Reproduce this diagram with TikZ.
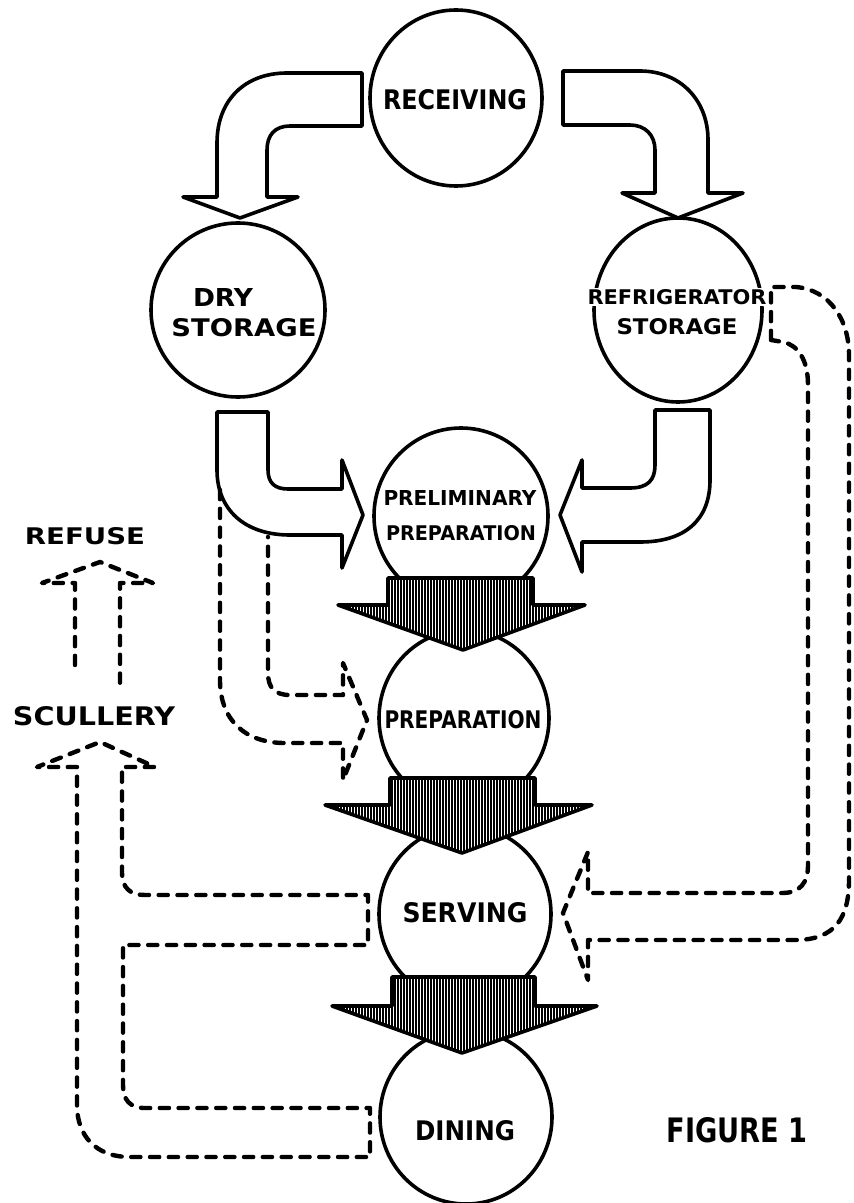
\documentclass[tikz,border=0pt]{standalone}
\usepackage{fontspec}
\usepackage{graphicx}
\usetikzlibrary{shapes.geometric}
\newfontfamily\lblfont{DejaVu Sans}
\newcommand{\fitlbl}[3]{\resizebox{\dimexpr #1pt/2\relax}{\dimexpr #2pt/2\relax}{\lblfont\bfseries #3}}
% hatched block arrow: #1 shaft left x, #2 shaft right x, #3 shaft top y, #4 head base y,
% #5 head left x, #6 head right x, #7 tip x, #8 tip y
\newcommand{\hatcharrow}[8]{%
  \begin{scope}
    \clip (#1,#3) -- (#2,#3) -- (#2,#4) -- (#6,#4) -- (#7,#8) -- (#5,#4) -- (#1,#4) -- cycle;
    \fill[white] (#5,#3) rectangle (#6,#8);
    \foreach \hx in {320,323,...,610} {\draw[line width=1.1pt] (\hx,#3) -- (\hx,#8);}
  \end{scope}
  \draw[line width=1.8pt, line join=round] (#1,#3) -- (#2,#3) -- (#2,#4) -- (#6,#4) -- (#7,#8) -- (#5,#4) -- (#1,#4) -- cycle;
}
\begin{document}
\begin{tikzpicture}[x=0.5pt, y=-0.5pt, line join=round,
  circ/.style={ellipse, draw, line width=1.8pt, inner sep=0pt},
  lbl/.style={inner sep=0pt},
  lblw/.style={inner sep=0.6pt, fill=white},
  blockarrow/.style={draw, line width=1.8pt, fill=white, line join=round},
  dasharrow/.style={draw, line width=2.2pt, dash pattern=on 4.6pt off 4.8pt, line cap=round, line join=round}]
\useasboundingbox (0,0) rectangle (853,1203);

% circles
\node[circ, minimum width=86pt, minimum height=88pt] (rec) at (456,98) {};
\node[circ, minimum width=87pt, minimum height=87pt] (dry) at (238,310) {};
\node[circ, minimum width=84pt, minimum height=92pt] (ref) at (678,310) {};
\node[circ, minimum width=87pt, minimum height=88pt] (pre) at (461,516) {};
\node[circ, minimum width=85pt, minimum height=88pt] (prep) at (464,718) {};
\node[circ, minimum width=86pt, minimum height=88pt] (serv) at (465,914) {};
\node[circ, minimum width=86pt, minimum height=87pt] (din) at (466,1117) {};

% labels
\node[lbl] (trec) at (455,100) {\fitlbl{144}{20}{RECEIVING}};
\node[lbl] (tdry) at (223,298) {\fitlbl{60}{18}{DRY}};
\node[lbl] (tdrys) at (244,328) {\fitlbl{145}{18}{STORAGE}};
\node[lblw] (tref) at (677,297) {\fitlbl{179}{15}{REFRIGERATOR}};
\node[lbl] (trefs) at (677,327) {\fitlbl{121}{16}{STORAGE}};
\node[lbl] (tpre) at (460,498) {\fitlbl{153}{15}{PRELIMINARY}};
\node[lbl] (tpre2) at (461,533) {\fitlbl{150}{15}{PREPARATION}};
\node[lbl] (tprep) at (463,720) {\fitlbl{157}{18}{PREPARATION}};
\node[lbl] (tserv) at (465,913) {\fitlbl{125}{20}{SERVING}};
\node[lbl] (tdin) at (465,1131) {\fitlbl{100}{20}{DINING}};
\node[lbl] (tref2) at (85,536) {\fitlbl{120}{17}{REFUSE}};
\node[lbl] (tscul) at (94,716) {\fitlbl{162}{19}{SCULLERY}};
\node[lbl] (tfig) at (737,1130) {\fitlbl{141}{25}{FIGURE 1}};

% solid bent block arrows
\draw[blockarrow] (362,126) -- (362,73) -- (287,73) .. controls (245,73) and (217,100) .. (217,143)
  -- (217,197) -- (183,197) -- (240,218) -- (298,197) -- (267,197) -- (267,150)
  .. controls (267,135) and (275,126) .. (290,126) -- cycle;
\draw[blockarrow] (563,125) -- (563,71) -- (640,71) .. controls (680,71) and (708,100) .. (708,140)
  -- (708,193) -- (743,193) -- (678,218) -- (622,193) -- (655,193) -- (655,150)
  .. controls (655,135) and (645,125) .. (630,125) -- cycle;
\draw[blockarrow] (217,412) -- (268,412) -- (268,470) .. controls (268,483) and (275,489) .. (288,489)
  -- (342,489) -- (342,460) -- (363,515) -- (342,568) -- (342,535) -- (290,535)
  .. controls (245,535) and (217,510) .. (217,470) -- cycle;
\draw[blockarrow] (655,410) -- (710,410) -- (710,480) .. controls (710,520) and (685,542) .. (640,542)
  -- (582,542) -- (582,572) -- (560,515) -- (582,460) -- (582,488) -- (630,488)
  .. controls (648,488) and (655,480) .. (655,465) -- cycle;

% hatched block arrows
\hatcharrow{388}{533}{578}{605}{338}{585}{463}{650}
\hatcharrow{390}{535}{778}{805}{325}{592}{462}{853}
\hatcharrow{392}{535}{977}{1006}{332}{597}{462}{1053}

% dashed arrow: dry storage -> preparation
\draw[dasharrow] (220,490) -- (220,680) .. controls (220,720) and (245,743) .. (285,743) -- (343,743)
  -- (343,780) -- (367,720) -- (343,663) -- (343,695) -- (290,695)
  .. controls (275,695) and (268,688) .. (268,673) -- (268,537);

% dashed arrow: refrigerator storage -> serving
\draw[dasharrow] (771,340) -- (771,287) -- (796,287) .. controls (830,290) and (849,320) .. (849,355)
  -- (849,880) .. controls (849,918) and (835,940) .. (795,940) -- (588,940) -- (588,980)
  -- (563,913) -- (588,852) -- (588,893) -- (782,893) .. controls (800,893) and (808,883) .. (808,865)
  -- (808,385) .. controls (808,360) and (798,345) .. (783,342) -- cycle;

% dashed arrows: serving and dining -> scullery
\draw[dasharrow] (77,767) -- (37,767) -- (100,742) -- (155,767) -- (122,767) -- (122,872)
  .. controls (122,888) and (130,895) .. (145,895) -- (368,895) -- (368,945) -- (123,945)
  -- (123,1085) .. controls (123,1100) and (130,1108) .. (145,1108) -- (370,1108) -- (370,1157)
  -- (130,1157) .. controls (95,1157) and (77,1135) .. (77,1105) -- cycle;

% dashed arrow: scullery -> refuse
\draw[dasharrow] (75,665) -- (75,583) -- (42,583) -- (100,562) -- (153,583) -- (120,583) -- (120,687);
\end{tikzpicture}
\end{document}
